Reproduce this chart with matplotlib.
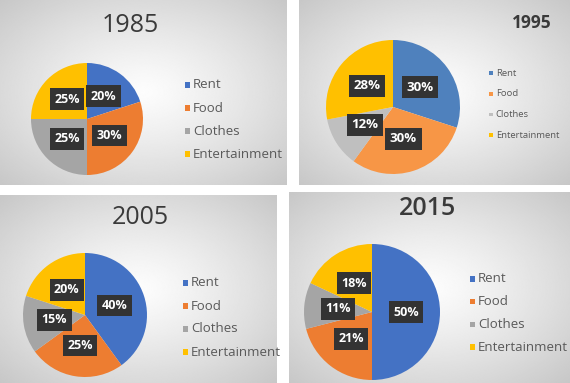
import matplotlib
matplotlib.use('Agg')
import matplotlib.pyplot as plt
from matplotlib.patches import Rectangle
import numpy as np

# data
categories = ['Rent', 'Food', 'Clothes', 'Entertainment']
years = ['1985', '1995', '2005', '2015']
share_1985 = [20, 30, 25, 25]
share_1995 = [30, 30, 12, 28]
share_2005 = [40, 25, 15, 20]
share_2015 = [50, 21, 11, 18]
shares = [share_1985, share_1995, share_2005, share_2015]

W, H = 570, 383
plt.rcParams['font.family'] = ['Open Sans', 'DejaVu Sans']

excel = ['#4472C4', '#ED7D31', '#A5A5A5', '#FFC000']
excel_old = ['#4F81BD', '#F79646', '#BFBFBF', '#FFC000']

# layout in pixels: panel box, pie centre/radius, title, legend
panels = [
    dict(box=(0, 0, 287, 185), pie=(87, 119, 56), title=(130, 25, 18, 'normal'),
         leg=(185, 85, 23, 9.5), colors=excel, lab=9),
    dict(box=(299, 0, 271, 185), pie=(393, 107, 67), title=(532, 23, 12.5, 'bold'),
         leg=(489, 73, 20.7, 6.8), colors=excel_old, lab=9.5),
    dict(box=(0, 195, 277, 188), pie=(85, 315, 62), title=(140, 218, 18, 'normal'),
         leg=(183, 283, 23, 9.5), colors=excel, lab=9),
    dict(box=(289, 192, 281, 191), pie=(372, 312, 68), title=(427, 209, 18, 'semibold'),
         leg=(470, 279, 22.7, 9.5), colors=excel, lab=9),
]


def fr(x, y, w, h):
    return [x / W, 1 - (y + h) / H, w / W, h / H]


fig = plt.figure(figsize=(W / 100, H / 100), dpi=100)
fig.patch.set_facecolor('white')

for p, year, vals in zip(panels, years, shares):
    bx, by, bw, bh = p['box']
    # gradient background
    bg = fig.add_axes(fr(bx, by, bw, bh))
    yy, xx = np.mgrid[-1:1:200j, -1:1:300j]
    d = np.sqrt(xx ** 2 + yy ** 2) / np.sqrt(2)
    shade = 0.99 - 0.21 * d ** 1.2
    bg.imshow(shade, cmap='gray', vmin=0, vmax=1, extent=[0, 1, 0, 1], aspect='auto')
    bg.set_xlim(0, 1)
    bg.set_ylim(0, 1)
    bg.axis('off')

    # title
    tx, ty, ts, tw = p['title']
    fig.text(tx / W, 1 - ty / H, year, ha='center', va='center', fontsize=ts,
             fontweight=tw, color='#3a3a3a')

    # pie
    cx, cy, r = p['pie']
    ax = fig.add_axes(fr(cx - r, cy - r, 2 * r, 2 * r))
    wedges, texts, autotexts = ax.pie(vals, colors=p['colors'], startangle=90,
                                      counterclock=False, autopct='%d%%',
                                      pctdistance=0.5, radius=1)
    for t in autotexts:
        t.set_color('white')
        t.set_fontweight('bold')
        t.set_fontsize(p['lab'])
        t.set_bbox(dict(boxstyle='square,pad=0.35', fc='#333333', ec='none'))
    ax.set_xlim(-1, 1)
    ax.set_ylim(-1, 1)
    ax.set_aspect('equal')
    ax.axis('off')

    # legend
    lx, ly, step, fs = p['leg']
    ms = fs * 0.55
    for i, (name, col) in enumerate(zip(categories, p['colors'])):
        yc = ly + i * step
        fig.patches.append(Rectangle(((lx) / W, 1 - (yc + ms / 2) / H), ms / W, ms / H,
                                     transform=fig.transFigure, fc=col, ec='none'))
        fig.text((lx + ms + 3) / W, 1 - yc / H, name, ha='left', va='center',
                 fontsize=fs, color='#595959')

fig.savefig('out.png', dpi=100)
